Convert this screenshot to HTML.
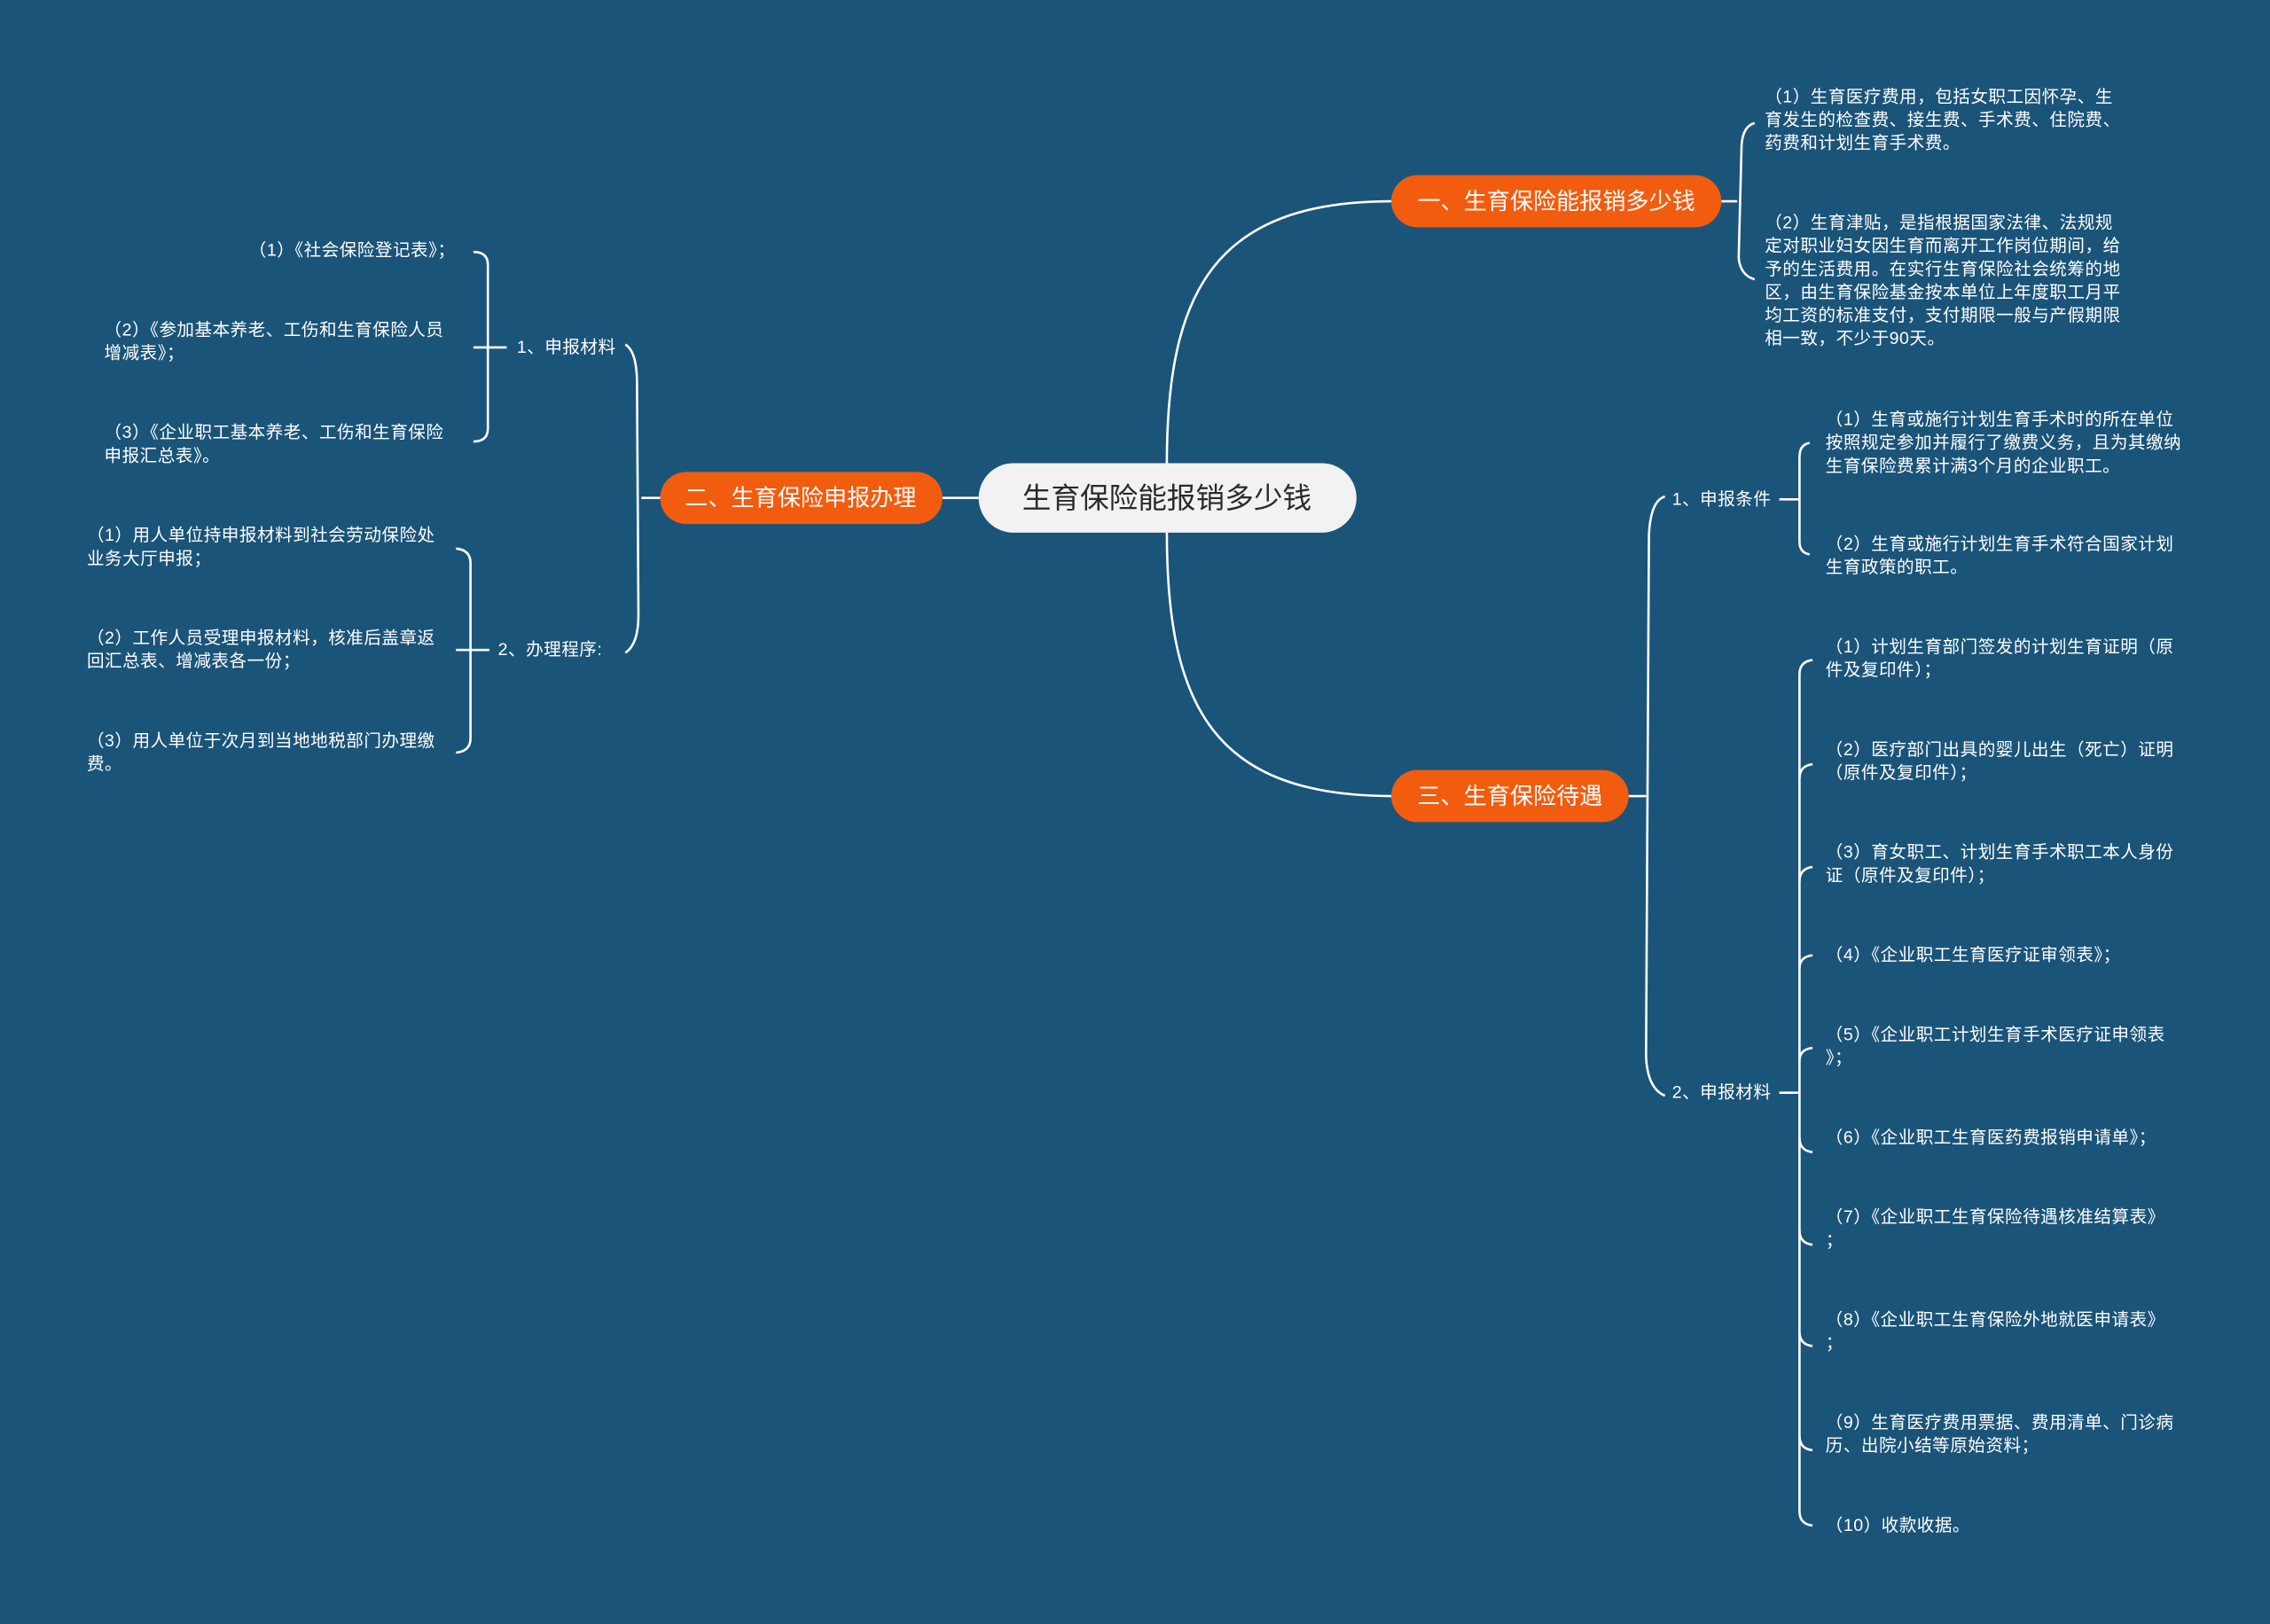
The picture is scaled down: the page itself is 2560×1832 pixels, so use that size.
<!DOCTYPE html>
<html><head><meta charset="utf-8"><style>
html,body{margin:0;padding:0;background:#1b5479;}
svg{display:block}
text{font-family:"Liberation Sans","Noto Sans CJK SC",sans-serif;fill:#fff;dominant-baseline:central}
.s{font-size:12px;letter-spacing:0.3px}
.l{fill:none;stroke:#fff;stroke-width:1.6}
</style></head><body>
<svg width="2560" height="1832" viewBox="0 0 1568 1122" xmlns="http://www.w3.org/2000/svg">
<rect width="1568" height="1122" fill="#1b5479"/>
<path class="l" d="M806,320 C806,200 840,139 962,139"/>
<path class="l" d="M806,368 C806,490 840,550 962,550"/>
<path class="l" d="M651,344 L676,344"/>
<rect x="676" y="320" width="261" height="48" rx="24" fill="#f2f2f2"/>
<text x="806" y="344" text-anchor="middle" style="font-size:20px;fill:#2a2a2a">生育保险能报销多少钱</text>
<rect x="961" y="121" width="228" height="36" rx="18" fill="#f25c0f"/>
<text x="1075" y="139" text-anchor="middle" style="font-size:16px">一、生育保险能报销多少钱</text>
<rect x="961" y="532" width="164" height="36" rx="18" fill="#f25c0f"/>
<text x="1043" y="550" text-anchor="middle" style="font-size:16px">三、生育保险待遇</text>
<rect x="456" y="326" width="195" height="36" rx="18" fill="#f25c0f"/>
<text x="553" y="344" text-anchor="middle" style="font-size:16px">二、生育保险申报办理</text>

<path class="l" d="M1189,139 L1200,139"/>
<path class="l" d="M1212,85 Q1204,87 1203,100 L1201,178 Q1202,190 1212,193"/>
<g class="s">
<text x="1219" y="67">（1）生育医疗费用，包括女职工因怀孕、生</text>
<text x="1219" y="83">育发生的检查费、接生费、手术费、住院费、</text>
<text x="1219" y="99">药费和计划生育手术费。</text>
<text x="1219" y="154">（2）生育津贴，是指根据国家法律、法规规</text>
<text x="1219" y="170">定对职业妇女因生育而离开工作岗位期间，给</text>
<text x="1219" y="186">予的生活费用。在实行生育保险社会统筹的地</text>
<text x="1219" y="202">区，由生育保险基金按本单位上年度职工月平</text>
<text x="1219" y="218">均工资的标准支付，支付期限一般与产假期限</text>
<text x="1219" y="234">相一致，不少于90天。</text>
</g>

<path class="l" d="M1125,550 L1137,550"/>
<path class="l" d="M1150,343 Q1140,346 1139,370 L1137,730 Q1138,752 1150,757"/>
<text class="s" x="1155" y="345">1、申报条件</text>
<text class="s" x="1155" y="755">2、申报材料</text>
<path class="l" d="M1229,345 L1243,345"/>
<path class="l" d="M1250,306 Q1243,307 1243,316 L1243,374 Q1243,382 1250,383"/>
<g class="s">
<text x="1261" y="290">（1）生育或施行计划生育手术时的所在单位</text>
<text x="1261" y="306">按照规定参加并履行了缴费义务，且为其缴纳</text>
<text x="1261" y="322">生育保险费累计满3个月的企业职工。</text>
<text x="1261" y="376">（2）生育或施行计划生育手术符合国家计划</text>
<text x="1261" y="392">生育政策的职工。</text>
</g>
<path class="l" d="M1229,755 L1243,755"/>
<path class="l" d="M1252,456 Q1243,457 1243,466 L1243,1044 Q1243,1053 1252,1054"/>
<path class="l" d="M1243,538 Q1243,529 1252,528 M1243,609 Q1243,600 1252,599 M1243,669 Q1243,661 1252,660 M1243,733 Q1243,725 1252,724 M1243,786 Q1243,795 1252,796 M1243,850 Q1243,859 1252,860 M1243,920 Q1243,929 1252,930 M1243,992 Q1243,1001 1252,1002"/>
<g class="s">
<text x="1261" y="447">（1）计划生育部门签发的计划生育证明（原</text>
<text x="1261" y="463">件及复印件）；</text>
<text x="1261" y="518">（2）医疗部门出具的婴儿出生（死亡）证明</text>
<text x="1261" y="534">（原件及复印件）；</text>
<text x="1261" y="589">（3）育女职工、计划生育手术职工本人身份</text>
<text x="1261" y="605">证（原件及复印件）；</text>
<text x="1261" y="660">（4）《企业职工生育医疗证审领表》；</text>
<text x="1261" y="715">（5）《企业职工计划生育手术医疗证申领表</text>
<text x="1261" y="731">》；</text>
<text x="1261" y="786">（6）《企业职工生育医药费报销申请单》；</text>
<text x="1261" y="841">（7）《企业职工生育保险待遇核准结算表》</text>
<text x="1261" y="857">；</text>
<text x="1261" y="912">（8）《企业职工生育保险外地就医申请表》</text>
<text x="1261" y="928">；</text>
<text x="1261" y="983">（9）生育医疗费用票据、费用清单、门诊病</text>
<text x="1261" y="999">历、出院小结等原始资料；</text>
<text x="1261" y="1054">（10）收款收据。</text>
</g>

<path class="l" d="M456,344 L443,344"/>
<path class="l" d="M432,238 Q440,243 440,265 L441,425 Q441,445 432,451"/>
<text class="s" x="357" y="240">1、申报材料</text>
<text class="s" x="344" y="449">2、办理程序:</text>
<path class="l" d="M350,240 L337,240"/>
<path class="l" d="M327,174 Q337,174 337,183 L337,296 Q337,305 327,305"/>
<path class="l" d="M327,240 L337,240"/>
<g class="s">
<text x="172" y="173">（1）《社会保险登记表》；</text>
<text x="72" y="228">（2）《参加基本养老、工伤和生育保险人员</text>
<text x="72" y="244">增减表》；</text>
<text x="72" y="299">（3）《企业职工基本养老、工伤和生育保险</text>
<text x="72" y="315">申报汇总表》。</text>
</g>
<path class="l" d="M338,449 L325,449"/>
<path class="l" d="M315,379 Q325,380 325,389 L325,510 Q325,519 315,520"/>
<path class="l" d="M315,449 L325,449"/>
<g class="s">
<text x="60" y="370">（1）用人单位持申报材料到社会劳动保险处</text>
<text x="60" y="386">业务大厅申报；</text>
<text x="60" y="441">（2）工作人员受理申报材料，核准后盖章返</text>
<text x="60" y="457">回汇总表、增减表各一份；</text>
<text x="60" y="512">（3）用人单位于次月到当地地税部门办理缴</text>
<text x="60" y="528">费。</text>
</g>
</svg>
</body></html>
